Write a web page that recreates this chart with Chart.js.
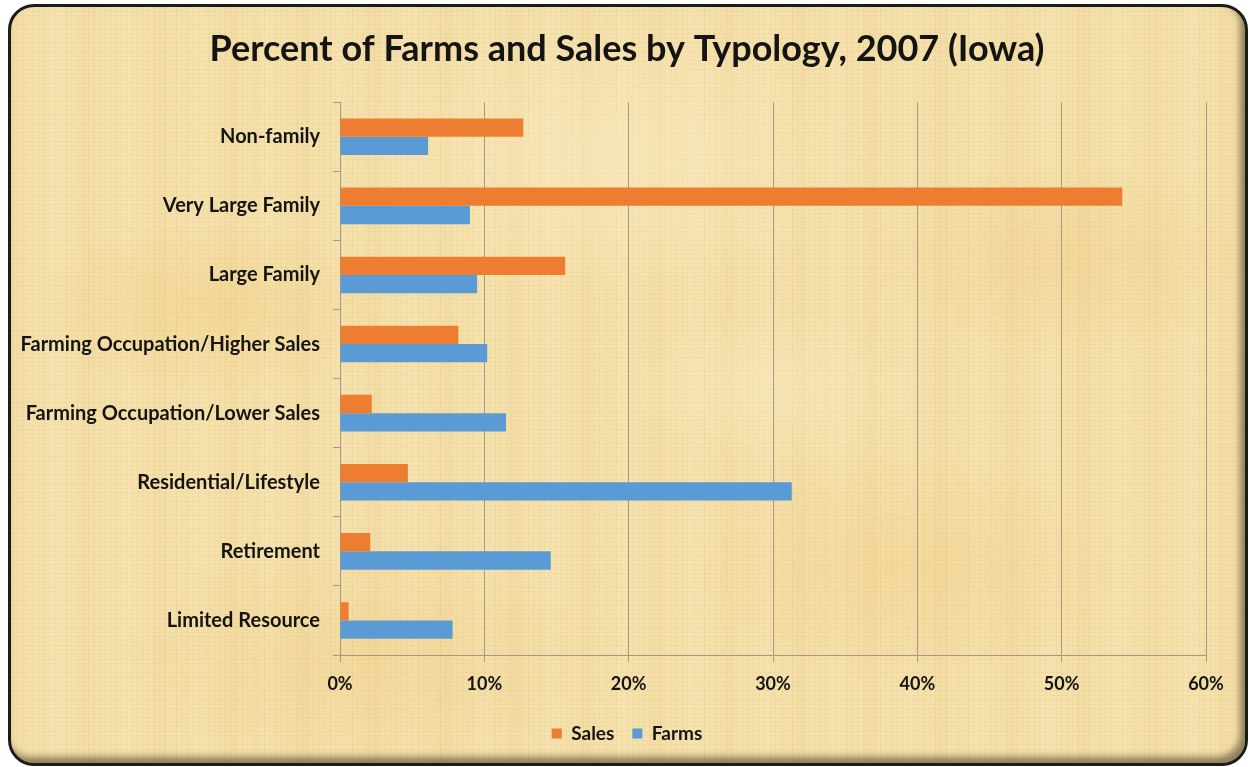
<!DOCTYPE html>
<html>
<head>
<meta charset="utf-8">
<script src="https://cdn.jsdelivr.net/npm/chart.js@4/dist/chart.umd.min.js"></script>
<style>
  html, body { margin: 0; padding: 0; background: #ffffff; }
  #marco {
    position: absolute; left: 8px; top: 4px; width: 1240px; height: 762px;
    box-sizing: border-box; border: 3px solid #1c1c1c; border-radius: 26px;
    background-color: #f5e0aa;
    background-image:
      radial-gradient(ellipse 180px 90px at 200px 300px, rgba(236, 196, 110, 0.30), transparent),
      radial-gradient(ellipse 220px 120px at 900px 560px, rgba(236, 196, 110, 0.26), transparent),
      radial-gradient(ellipse 260px 140px at 600px 150px, rgba(252, 238, 200, 0.45), transparent),
      radial-gradient(ellipse 200px 100px at 1050px 250px, rgba(232, 190, 104, 0.24), transparent),
      radial-gradient(ellipse 240px 120px at 350px 650px, rgba(232, 190, 104, 0.22), transparent),
      radial-gradient(ellipse 160px 80px at 760px 380px, rgba(252, 238, 200, 0.35), transparent),
      repeating-linear-gradient(90deg, rgba(170, 130, 60, 0.07) 0 1px, transparent 1px 5px, rgba(170, 130, 60, 0.045) 5px 6px, transparent 6px 11px),
      repeating-linear-gradient(0deg, rgba(170, 130, 60, 0.06) 0 1px, transparent 1px 4px, rgba(170, 130, 60, 0.04) 4px 5px, transparent 5px 9px),
      repeating-linear-gradient(90deg, rgba(210, 170, 90, 0.05) 0 14px, transparent 14px 37px, rgba(255, 245, 215, 0.08) 37px 52px, transparent 52px 71px);
    box-shadow: inset -5px -6px 7px rgba(60, 45, 20, 0.55);
  }
  #grafico { position: absolute; left: 0; top: 0; }
</style>
</head>
<body>
<div id="marco"></div>
<canvas id="grafico" width="1249" height="767"></canvas>
<script>
// Datos del gráfico (porcentajes)
const categorias = [
    'Non-family',
    'Very Large Family',
    'Large Family',
    'Farming Occupation/Higher Sales',
    'Farming Occupation/Lower Sales',
    'Residential/Lifestyle',
    'Retirement',
    'Limited Resource'
];
const ventas = [12.7, 54.2, 15.6, 8.2, 2.2, 4.7, 2.1, 0.6];
const granjas = [6.1, 9.0, 9.5, 10.2, 11.5, 31.3, 14.6, 7.8];
const ejeX = [0, 10, 20, 30, 40, 50, 60];

const fuente = 'Lato, "Open Sans", sans-serif';
const colorTexto = '#141414';
const colorLinea = '#a39b86';

function crearGraficoBarras(canvasId) {
    const ctx = document.getElementById(canvasId);
    if (!ctx) {
        console.error(`No se encontró el canvas con id: ${canvasId}`);
        return;
    }
    new Chart(ctx, {
        type: 'bar',
        data: {
            labels: categorias,
            datasets: [
                { label: 'Sales', data: ventas, backgroundColor: '#ed7d31' },
                { label: 'Farms', data: granjas, backgroundColor: '#5b9bd5' }
            ]
        },
        options: {
            indexAxis: 'y',
            responsive: false,
            animation: false,
            categoryPercentage: 0.53,
            barPercentage: 1.0,
            layout: { padding: { left: 5, right: 0, top: 0, bottom: 14 } },
            scales: {
                x: {
                    min: ejeX[0],
                    max: ejeX[ejeX.length - 1],
                    afterBuildTicks: (eje) => { eje.ticks = ejeX.map(v => ({ value: v })); },
                    afterFit: (eje) => { eje.height = 51; eje.paddingRight = 43; },
                    grid: { color: colorLinea, lineWidth: 1, tickLength: 7, drawTicks: true },
                    border: { display: true, color: colorLinea },
                    ticks: {
                        padding: 11,
                        color: colorTexto,
                        font: { family: fuente, size: 18, weight: 'bold' },
                        callback: (v) => v + '%'
                    }
                },
                y: {
                    afterFit: (eje) => { eje.width = 335; },
                    grid: { drawOnChartArea: false, color: colorLinea, tickLength: 7, offset: true },
                    border: { display: true, color: colorLinea },
                    ticks: {
                        padding: 13,
                        color: colorTexto,
                        font: { family: fuente, size: 20, weight: 'bold' }
                    }
                }
            },
            plugins: {
                title: {
                    display: true,
                    text: 'Percent of Farms and Sales by Typology, 2007 (Iowa)',
                    color: colorTexto,
                    font: { family: fuente, size: 36, weight: 'bold' },
                    padding: { top: 28, bottom: 31 }
                },
                legend: {
                    position: 'bottom',
                    labels: {
                        boxWidth: 10,
                        boxHeight: 10,
                        padding: 18,
                        color: colorTexto,
                        font: { family: fuente, size: 19, weight: 'bold' }
                    }
                },
                tooltip: { enabled: false }
            }
        }
    });
}

crearGraficoBarras('grafico');
</script>
</body>
</html>
